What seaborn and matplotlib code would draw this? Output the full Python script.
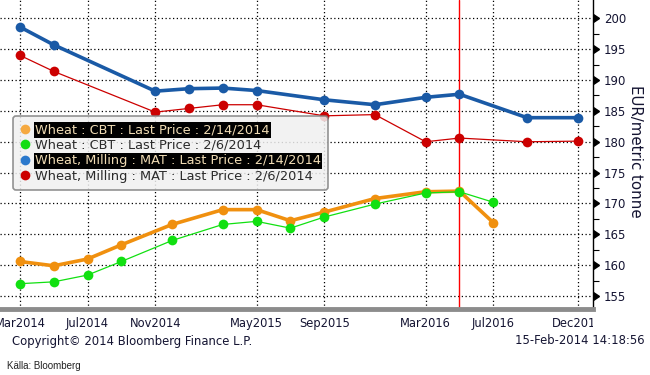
import pandas as pd
import matplotlib
matplotlib.use("Agg")
import matplotlib.pyplot as plt
import seaborn as sns
from matplotlib.lines import Line2D
from matplotlib.markers import CARETRIGHTBASE
from matplotlib.transforms import Bbox, TransformedBbox

# Kontraktsmånader och priser (EUR/ton)
cbt_months = ['2014-03', '2014-05', '2014-07', '2014-09', '2014-12', '2015-03', '2015-05',
              '2015-07', '2015-09', '2015-12', '2016-03', '2016-05', '2016-07']
cbt_feb14 = [160.6, 159.9, 161.0, 163.3, 166.6, 169.0, 169.0, 167.2, 168.6, 170.8, 171.9, 172.0, 166.9]
cbt_feb06 = [157.0, 157.3, 158.4, 160.6, 164.0, 166.6, 167.1, 166.0, 167.8, 169.9, 171.7, 171.9, 170.2]

mat_months = ['2014-03', '2014-05', '2014-11', '2015-01', '2015-03', '2015-05', '2015-09',
              '2015-12', '2016-03', '2016-05', '2016-09', '2016-12']
mat_feb14 = [198.6, 195.7, 188.2, 188.6, 188.7, 188.3, 186.8, 186.0, 187.2, 187.7, 183.9, 183.9]
mat_feb06 = [194.0, 191.4, 184.8, 185.4, 186.0, 186.0, 184.2, 184.4, 180.0, 180.6, 180.0, 180.1]

tick_months = ['2014-03', '2014-07', '2014-11', '2015-05', '2015-09', '2016-03', '2016-07', '2016-12']
tick_labels = ['Mar2014', 'Jul2014', 'Nov2014', 'May2015', 'Sep2015', 'Mar2016', 'Jul2016', 'Dec2016']
cursor_month = '2016-05'

labels = ['Wheat : CBT : Last Price : 2/14/2014',
          'Wheat : CBT : Last Price : 2/6/2014',
          'Wheat, Milling : MAT : Last Price : 2/14/2014',
          'Wheat, Milling : MAT : Last Price : 2/6/2014']


def month_index(s):
    p = pd.Period(s, freq='M')
    return (p.year - 2014) * 12 + p.month - 3


sns.set_style("white")
plt.rcParams['font.family'] = ['DejaVu Sans']

fig = plt.figure(figsize=(6.5, 3.75), dpi=100)
ax = fig.add_axes([0, 1 - 309 / 375, 593 / 650, 309 / 375])

series = [
    (cbt_months, cbt_feb14, '#f0900f', 2.6, 3),
    (cbt_months, cbt_feb06, '#11e011', 0.9, 4),
    (mat_months, mat_feb14, '#1a5aa6', 2.6, 3),
    (mat_months, mat_feb06, '#cc0000', 0.9, 4),
]
for months, vals, color, lw, z in series:
    df = pd.DataFrame({'m': [month_index(m) for m in months], 'pris': vals})
    sns.lineplot(data=df, x='m', y='pris', ax=ax, color=color, linewidth=lw,
                 marker='o', markersize=7, markeredgewidth=0, zorder=z)

ax.axvline(month_index(cursor_month), color='#ff0000', linewidth=1, zorder=2)

ax.set_xlim(-1.18, 33.9)
ax.set_ylim(152.9, 202.97)
ax.set_xlabel('')
ax.set_ylabel('')

ax.set_xticks([month_index(m) for m in tick_months])
ax.set_xticklabels(tick_labels)
ax.set_yticks(range(155, 201, 5))
ax.set_yticks([155 + 2.5 * i for i in range(19)], minor=True)
ax.yaxis.tick_right()
ax.grid(True, which='major', color='black', linestyle=(0, (1, 2)), linewidth=0.9)

for s in ['top', 'left']:
    ax.spines[s].set_visible(False)
ax.spines['right'].set_color('black')
ax.spines['right'].set_linewidth(1)
ax.spines['bottom'].set_color('#8c8c8c')
ax.spines['bottom'].set_linewidth(3.5)

ax.tick_params(axis='x', length=0, pad=6, labelsize=8.3, labelcolor='#141432')
ax.tick_params(axis='y', which='major', direction='out', length=6, width=1, color='black',
               pad=2, labelsize=8.5, labelcolor='#141432')
ax.tick_params(axis='y', which='minor', direction='out', length=4, width=0.8, color='black')
for t in ax.yaxis.get_major_ticks():
    t.tick2line.set_marker(CARETRIGHTBASE)

# legend
legend_colors = ['#f5a940', '#11dd11', '#2a78cc', '#cc0000']
handles = [Line2D([], [], linestyle='none', marker='o', markersize=7, markeredgewidth=0, color=c)
           for c in legend_colors]
leg = ax.legend(handles, labels, loc='upper left', bbox_to_anchor=(13 / 650, 1 - 116 / 375),
                bbox_transform=fig.transFigure, borderaxespad=0, fontsize=9.3,
                handlelength=0.7, handletextpad=0.45, labelspacing=0.2, borderpad=0.55,
                fancybox=True, framealpha=0.85, facecolor='#f0f0f0', edgecolor='#808080')
leg.get_frame().set_linewidth(1.2)
for i, txt in enumerate(leg.get_texts()):
    if i in (0, 2):
        txt.set_color('#f0dcb4')
        txt.set_bbox(dict(facecolor='black', edgecolor='none', pad=1))
    else:
        txt.set_color('#2a2a2a')

fig.text(635 / 650, 1 - 151 / 375, 'EUR/metric tonne', rotation=270, ha='center', va='center',
         fontsize=10.8, color='#141432')
fig.text(12 / 650, 1 - 341 / 375, 'Copyright\u00a9 2014 Bloomberg Finance L.P.', ha='left',
         va='center', fontsize=8.4, color='#141432')
fig.text(645 / 650, 1 - 341 / 375, '15-Feb-2014 14:18:56', ha='right', va='center',
         fontsize=8.4, color='#141432')
fig.text(7 / 650, 1 - 366 / 375, 'Källa: Bloomberg', ha='left', va='center', fontsize=7,
         color='#222222', family=['Liberation Sans Narrow', 'Liberation Sans', 'DejaVu Sans'])

# klipp x-etiketter vid axelns högerkant
fig.canvas.draw()
clip = TransformedBbox(Bbox([[0, 0], [593 / 650, 1]]), fig.transFigure)
for lab in ax.get_xticklabels():
    lab.set_clip_box(clip)
    lab.set_clip_on(True)

fig.savefig('out.png', dpi=100)
